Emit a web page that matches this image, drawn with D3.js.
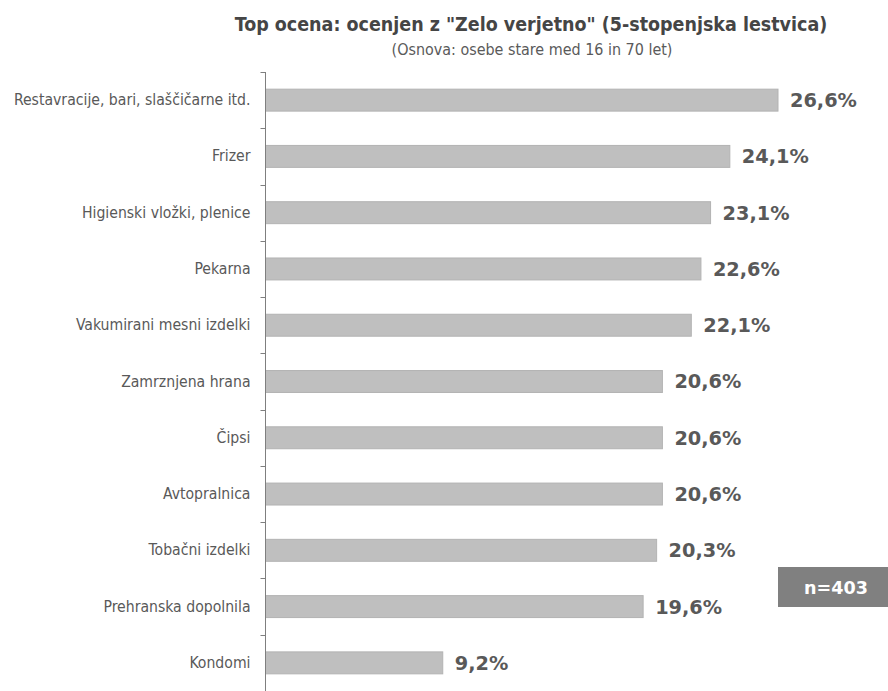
<!DOCTYPE html>
<html lang="sl">
<head>
  <meta charset="UTF-8">
  <title>Top ocena</title>
  <script src="https://cdn.jsdelivr.net/npm/d3@7"></script>
  <style>
    body { margin: 0; background: #fff; }
    svg { display: block; }
  </style>
</head>
<body>
  <div id="chart"></div>
  <script>
    const categories = [
      'Restavracije, bari, slaščičarne itd.',
      'Frizer',
      'Higienski vložki, plenice',
      'Pekarna',
      'Vakumirani mesni izdelki',
      'Zamrznjena hrana',
      'Čipsi',
      'Avtopralnica',
      'Tobačni izdelki',
      'Prehranska dopolnila',
      'Kondomi'
    ]
    const values = [26.6, 24.1, 23.1, 22.6, 22.1, 20.6, 20.6, 20.6, 20.3, 19.6, 9.2]
    const titleText = 'Top ocena: ocenjen z "Zelo verjetno" (5-stopenjska lestvica)'
    const subtitleText = '(Osnova: osebe stare med 16 in 70 let)'
    const sampleText = 'n=403'

    const width = 888
    const height = 691
    const axisX = 265.5

    const data = categories.map((c, i) => ({ cat: c, val: values[i] }))

    // scale a text's font size so it spans the wanted width
    const fitSize = (node, target) => {
      const base = parseFloat(node.style.fontSize)
      const len = node.getComputedTextLength()
      return base * target / len
    }

    const xScale = d3.scaleLinear()
      .domain([0, 26.6])
      .range([axisX, 778])

    const yScale = d3.scaleBand()
      .domain(categories)
      .range([72, 691])
      .paddingInner(0.61)
      .paddingOuter(0.305)

    const svg = d3.select('#chart')
      .append('svg')
      .attr('width', width)
      .attr('height', height)

    const title = svg.append('text')
      .attr('x', 531)
      .attr('y', 31)
      .attr('text-anchor', 'middle')
      .style('font-family', 'DejaVu Sans Condensed, DejaVu Sans')
      .style('font-weight', 'bold')
      .style('font-size', '16px')
      .style('fill', '#454545')
      .text(titleText)
    title.style('font-size', fitSize(title.node(), 593) + 'px')

    const subtitle = svg.append('text')
      .attr('x', 532)
      .attr('y', 55)
      .attr('text-anchor', 'middle')
      .style('font-family', 'DejaVu Sans Condensed, DejaVu Sans')
      .style('font-size', '13px')
      .style('fill', '#5a5a5a')
      .text(subtitleText)
    subtitle.style('font-size', fitSize(subtitle.node(), 281) + 'px')

    // bars
    svg.selectAll('rect.bar')
      .data(data)
      .enter()
      .append('rect')
      .attr('class', 'bar')
      .attr('x', xScale(0))
      .attr('y', d => yScale(d.cat))
      .attr('width', d => xScale(d.val) - xScale(0))
      .attr('height', yScale.bandwidth())
      .attr('fill', '#bfbfbf')
      .attr('stroke', '#b3b3b3')
      .attr('stroke-width', 1)

    // value labels
    const vals = svg.selectAll('text.val')
      .data(data)
      .enter()
      .append('text')
      .attr('class', 'val')
      .attr('x', d => xScale(d.val) + 12)
      .attr('y', d => yScale(d.cat) + yScale.bandwidth() / 2)
      .attr('dy', '0.36em')
      .style('font-family', 'DejaVu Sans')
      .style('font-weight', 'bold')
      .style('font-size', '16px')
      .style('fill', '#595959')
      .text(d => d.val.toFixed(1).replace('.', ',') + '%')
    const valSize = fitSize(vals.node(), 67)
    vals.style('font-size', valSize + 'px')

    // category axis
    const yAxis = d3.axisLeft(yScale)
      .tickSize(0)
      .tickPadding(15)

    const gy = svg.append('g')
      .attr('transform', `translate(${axisX}, 0)`)
      .call(yAxis)

    gy.select('.domain').remove()
    const catLabels = gy.selectAll('text')
      .style('font-family', 'DejaVu Sans Condensed, DejaVu Sans')
      .style('font-size', '13px')
      .style('fill', '#595959')
    const catSize = fitSize(catLabels.node(), 237)
    catLabels.style('font-size', catSize + 'px')

    const step = yScale.step()
    const bounds = d3.range(categories.length + 1).map(k => yScale.range()[0] + k * step)

    gy.append('line')
      .attr('x1', 0).attr('x2', 0)
      .attr('y1', bounds[0]).attr('y2', height)
      .attr('stroke', '#7f7f7f')

    gy.selectAll('line.tick-b')
      .data(bounds)
      .enter()
      .append('line')
      .attr('class', 'tick-b')
      .attr('x1', -5).attr('x2', 0)
      .attr('y1', d => Math.round(d) + 0.5)
      .attr('y2', d => Math.round(d) + 0.5)
      .attr('stroke', '#7f7f7f')

    // sample size box
    svg.append('rect')
      .attr('x', 778)
      .attr('y', 567)
      .attr('width', 110)
      .attr('height', 40)
      .attr('fill', '#808080')

    const nText = svg.append('text')
      .attr('x', 836)
      .attr('y', 588)
      .attr('dy', '0.36em')
      .attr('text-anchor', 'middle')
      .style('font-family', 'DejaVu Sans')
      .style('font-weight', 'bold')
      .style('font-size', '15px')
      .style('fill', '#fff')
      .text(sampleText)
    nText.style('font-size', fitSize(nText.node(), 64) + 'px')
  </script>
</body>
</html>
